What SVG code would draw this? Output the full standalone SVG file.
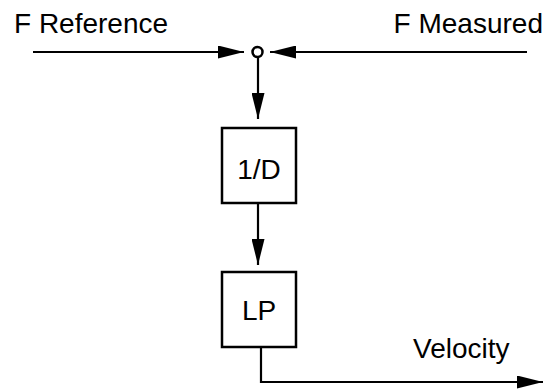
<svg xmlns="http://www.w3.org/2000/svg" width="546" height="390" viewBox="0 0 546 390">
<style>
text{font-family:"Liberation Sans",Arial,sans-serif;font-size:28px;fill:#000}
.box{fill:#fff;stroke:#000;stroke-width:2.5}
.ln{fill:none;stroke:#000;stroke-width:2.2}
</style>
<defs>
<marker id="ah" viewBox="0 0 26 13" refX="26" refY="6.5" markerWidth="26" markerHeight="13" markerUnits="userSpaceOnUse" orient="auto">
<path d="M0,0 L26,6.5 L0,13 Z" fill="#000"/>
</marker>
</defs>
<rect width="546" height="390" fill="#fff"/>
<g id="labels">
<text x="14" y="33">F Reference</text>
<text x="543" y="33" text-anchor="end">F Measured</text>
<text x="413" y="358">Velocity</text>
</g>
<g id="connectors">
<line class="ln" x1="33" y1="52" x2="244" y2="52" marker-end="url(#ah)"/>
<line class="ln" x1="527" y1="52" x2="270" y2="52" marker-end="url(#ah)"/>
<line class="ln" x1="258" y1="58" x2="258" y2="119" marker-end="url(#ah)"/>
<line class="ln" x1="258" y1="203" x2="258" y2="265" marker-end="url(#ah)"/>
<path class="ln" d="M261,347 V382 H543" marker-end="url(#ah)"/>
</g>
<g id="sum">
<circle cx="257.5" cy="52" r="5" fill="#fff" stroke="#000" stroke-width="2.5"/>
</g>
<g id="node-1d">
<rect class="box" x="222" y="128" width="74" height="75"/>
<text x="259" y="179" text-anchor="middle">1/D</text>
</g>
<g id="node-lp">
<rect class="box" x="222" y="272" width="74" height="75"/>
<text x="259" y="320" text-anchor="middle">LP</text>
</g>
</svg>
